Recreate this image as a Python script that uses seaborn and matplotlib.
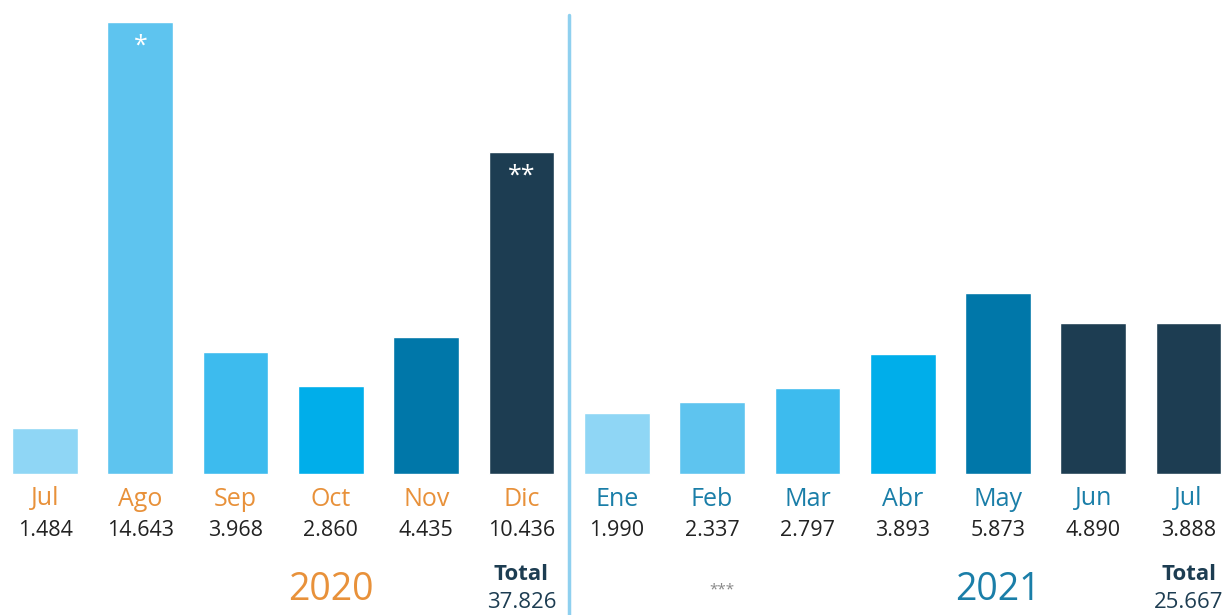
import pandas as pd
import seaborn as sns
import matplotlib.pyplot as plt
from matplotlib.transforms import blended_transform_factory

# data
months = ['Jul', 'Ago', 'Sep', 'Oct', 'Nov', 'Dic',
          'Ene', 'Feb', 'Mar', 'Abr', 'May', 'Jun', 'Jul']
years = [2020] * 6 + [2021] * 7
value_labels = ['1.484', '14.643', '3.968', '2.860', '4.435', '10.436',
                '1.990', '2.337', '2.797', '3.893', '5.873', '4.890', '3.888']
# bar heights (thousands); the last bar is drawn as tall as Jun in the source
bar_heights = [1.484, 14.643, 3.968, 2.860, 4.435, 10.436,
               1.990, 2.337, 2.797, 3.893, 5.873, 4.890, 4.890]
marks = {'Ago-2020': '*', 'Dic-2020': '**'}
totals = {2020: '37.826', 2021: '25.667'}

bar_colors = ['#8fd6f5', '#5ec4ef', '#3dbbee', '#00aeea', '#0077a9', '#1d3d52',
              '#8fd6f5', '#5ec4ef', '#3dbbee', '#00aeea', '#0077a9', '#1d3d52', '#1d3d52']

sns.set_theme(style="white")
plt.rcParams['font.family'] = ['Open Sans', 'DejaVu Sans']

df = pd.DataFrame({
    'key': [f'{m}-{y}' for m, y in zip(months, years)],
    'height': bar_heights,
})

fig = plt.figure(figsize=(12.26, 6.15), dpi=100)
ax = fig.add_axes([0, 0, 1, 1])
sns.barplot(data=df, x='key', y='height', hue='key', palette=bar_colors,
            width=0.69, legend=False, saturation=1, ax=ax)

# geometry in figure pixels -> data units
px_unit = (474 - 22) / 14.643
ax.set_ylim(-(615 - 474) / px_unit, 474 / px_unit)
ax.set_xlim(-45 / 95.3, (1226 - 45) / 95.3)
ax.axis('off')

tr = blended_transform_factory(ax.transData, ax.transAxes)
def fy(py):
    return 1 - py / 615

orange = '#e8913a'
teal = '#1a7ea8'
navy = '#1d3d52'

for i, (m, y, v) in enumerate(zip(months, years, value_labels)):
    ax.text(i, fy(499), m, transform=tr, ha='center', va='center',
            fontsize=18, color=orange if y == 2020 else teal)
    ax.text(i, fy(530), v, transform=tr, ha='center', va='center',
            fontsize=15.5, color='#222222')
    k = f'{m}-{y}'
    if k in marks:
        ax.text(i, bar_heights[i] - 24 / px_unit, marks[k], ha='center', va='center',
                fontsize=18, color='white')

# divider between years
ax.axvline(5.5, ymin=0, ymax=fy(15), color='#8fd0ef', lw=2.5)

# year captions and totals
ax.text(3.0, fy(590), '2020', transform=tr, ha='center', va='center',
        fontsize=27, color=orange)
ax.text(10.0, fy(590), '2021', transform=tr, ha='center', va='center',
        fontsize=27, color=teal)
ax.text(7.1, fy(590), '***', transform=tr, ha='center', va='center',
        fontsize=11, color='#888888')
for x, yr in [(5, 2020), (12, 2021)]:
    ax.text(x, fy(575), 'Total', transform=tr, ha='center', va='center',
            fontsize=16, color=navy, fontweight='bold')
    ax.text(x, fy(603), totals[yr], transform=tr, ha='center', va='center',
            fontsize=16, color=navy)

fig.savefig('out.png', dpi=100)
